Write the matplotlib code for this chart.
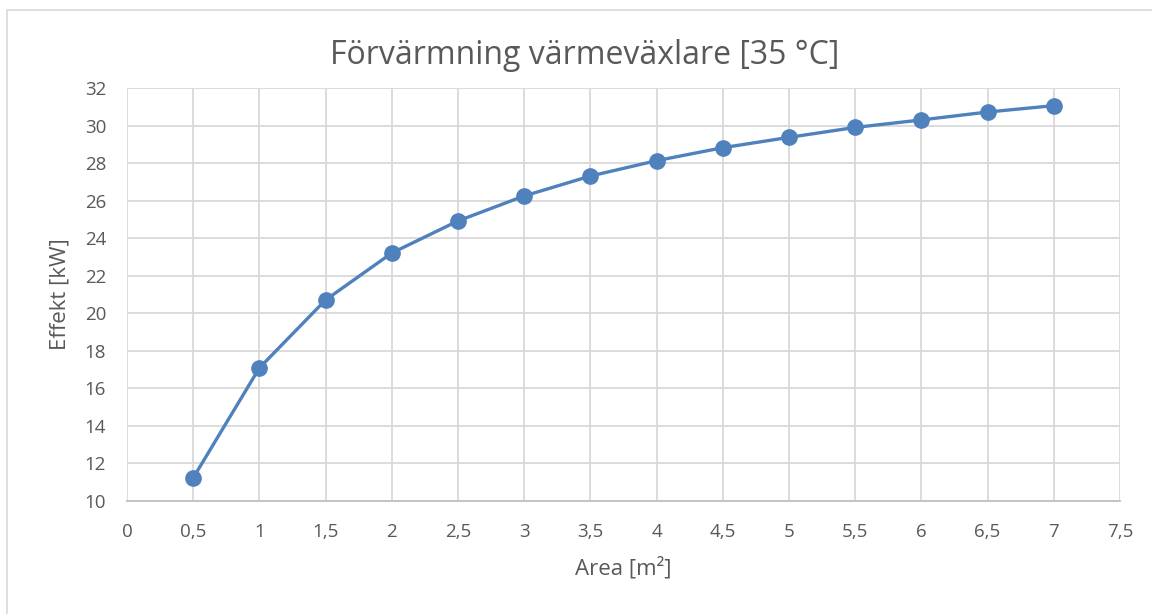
import matplotlib
matplotlib.use("Agg")
import matplotlib.pyplot as plt
from matplotlib.patches import Rectangle

area = [0.5, 1, 1.5, 2, 2.5, 3, 3.5, 4, 4.5, 5, 5.5, 6, 6.5, 7]
effekt = [11.23, 17.09, 20.71, 23.21, 24.92, 26.25, 27.31, 28.13, 28.82, 29.37, 29.9, 30.3, 30.72, 31.06]
x_ticks = [0, 0.5, 1, 1.5, 2, 2.5, 3, 3.5, 4, 4.5, 5, 5.5, 6, 6.5, 7, 7.5]
y_ticks = [10, 12, 14, 16, 18, 20, 22, 24, 26, 28, 30, 32]
title = "Förvärmning värmeväxlare [35 °C]"
xlabel = "Area [m²]"
ylabel = "Effekt [kW]"

plt.rcParams['font.family'] = ['Open Sans', 'DejaVu Sans']
txt = '#595959'
grid = '#d9d9d9'
blue = '#4f81bd'

fig = plt.figure(figsize=(11.52, 6.14), dpi=100)
fig.patches.append(Rectangle((7/1152, -10/614), 1160/1152, 614/614, transform=fig.transFigure,
                             fill=False, edgecolor='#d9d9d9', linewidth=1.2))
ax = fig.add_axes([127/1152, (614-501)/614, (1120-127)/1152, (501-88)/614])
ax.plot(area, effekt, color=blue, linewidth=2.4, marker='o', markersize=11, zorder=3, clip_on=False)
ax.set_xlim(0, 7.5)
ax.set_ylim(10, 32)
ax.set_xticks(x_ticks)
ax.set_xticklabels([f"{v:g}".replace('.', ',') for v in x_ticks])
ax.set_yticks(y_ticks)
ax.set_yticklabels([str(v) for v in y_ticks])
ax.grid(True, color=grid, linewidth=1.3)
ax.set_axisbelow(True)
for s in ['top', 'right', 'left']:
    ax.spines[s].set_visible(False)
ax.spines['bottom'].set_color('#bfbfbf')
ax.spines['bottom'].set_linewidth(1.3)
ax.tick_params(length=0, colors=txt, labelsize=13.5)
ax.tick_params(axis='x', pad=16)
ax.tick_params(axis='y', pad=15)
ax.set_xlabel(xlabel, fontsize=16, color=txt, labelpad=11)
ax.set_ylabel(ylabel, fontsize=16, color=txt, labelpad=10)
fig.text(585/1152, 1 - 55/614, title, ha='center', va='center', fontsize=23, color=txt)
fig.savefig('out.png', dpi=100)
